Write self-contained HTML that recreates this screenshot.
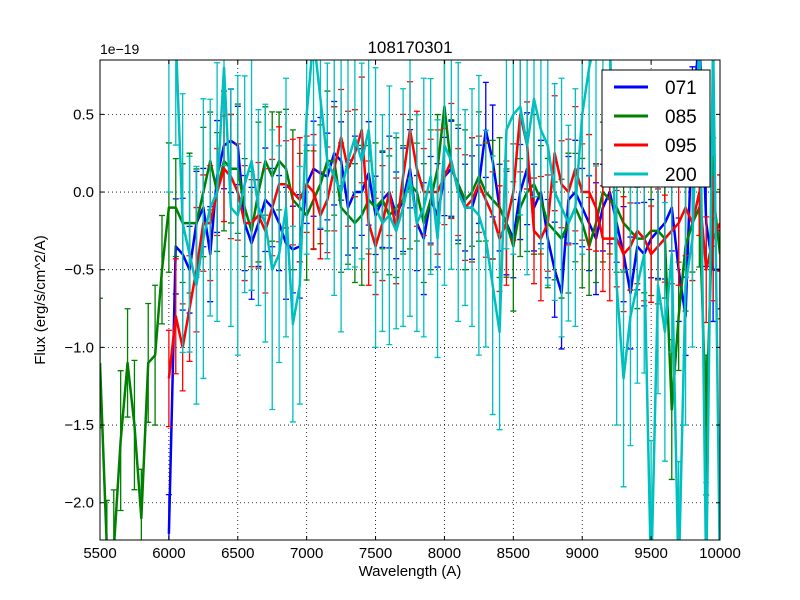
<!DOCTYPE html>
<html><head><meta charset="utf-8"><style>
html,body{margin:0;padding:0;background:#fff;overflow:hidden;width:800px;height:600px;}
svg{display:block;}
text{font-family:"Liberation Sans",sans-serif;}
</style></head><body>
<svg id="c" width="800" height="600" xmlns="http://www.w3.org/2000/svg">
<rect width="800" height="600" fill="#fff"/>
<defs><clipPath id="clip"><rect x="100" y="60" width="620" height="480"/></clipPath></defs>
<g id="grid"></g>
<g id="plot" clip-path="url(#clip)"></g>
<rect x="100" y="60" width="620" height="480" fill="none" stroke="#000" stroke-width="1"/>
<g id="ticks"></g>
<text x="410" y="53" font-size="17" text-anchor="middle">108170301</text>
<text x="100" y="54" font-size="14">1e−19</text>
<text x="410" y="576" font-size="15" text-anchor="middle">Wavelength (A)</text>
<text x="45" y="300" font-size="15" text-anchor="middle" transform="rotate(-90 45 300)">Flux (erg/s/cm^2/A)</text>
<g id="legend"></g>
</svg>
<script>
const wl = [];
for (let w = 5500; w <= 10000; w += 50) wl.push(w);
const seriesNames = ["071","085","095","200"];
const seriesColors = ["#0000ff","#008000","#ff0000","#00bfbf"];
const errScale = [0.36, 0.45, 0.4, 0.9];
const startWl = [6000, 5500, 6000, 6000];
const s071 = [-2.2,-0.35,-0.4,-0.5,-0.2,-0.1,-0.4,0.1,0.3,0.33,0.3,-0.2,-0.33,-0.2,-0.05,-0.1,-0.2,-0.33,-0.37,-0.35,0.05,0.15,0.12,0.1,0.25,0.2,-0.1,0.0,0.0,0.12,-0.15,-0.05,0.0,-0.15,-0.05,0.15,-0.2,-0.3,-0.05,-0.15,0.1,0.15,0.05,-0.1,-0.1,0.05,0.4,0.2,-0.1,-0.2,-0.3,0.0,0.15,-0.1,0.0,-0.3,-0.5,-0.65,-0.05,0.0,-0.1,-0.2,-0.3,-0.1,0.0,-0.2,-0.4,-0.65,-0.35,-0.4,-0.3,-0.25,-0.2,-0.1,-0.5,-0.8,0.5,1.0,-0.2,-0.5,-0.5];
const s085 = [-1.1,-2.3,-2.3,-1.6,-1.1,-1.5,-2.1,-1.1,-1.05,-0.5,-0.1,-0.1,-0.2,-0.2,-0.2,0.0,0.2,0.0,0.2,0.15,0.15,-0.1,-0.25,0.0,0.2,0.1,0.2,0.15,-0.05,-0.1,-0.15,-0.05,0.05,0.2,0.2,-0.1,-0.15,-0.2,-0.15,-0.05,-0.1,-0.05,-0.15,-0.1,-0.05,0.05,0.0,-0.2,-0.05,0.15,0.55,0.15,0.05,-0.05,0.0,0.1,0.0,-0.05,-0.1,-0.2,-0.35,-0.1,0.0,0.05,-0.05,-0.2,-0.25,-0.3,-0.2,-0.1,-0.2,-0.35,-0.2,0.0,-0.05,-0.1,-0.2,-0.25,-0.3,-0.3,-0.25,-0.25,-0.3,-1.4,-0.8,-0.35,-0.2,-0.1,-1.5,0.0,-0.4];
const s095 = [-1.2,-0.8,-1.0,-0.75,-0.5,-0.2,-0.2,0.0,0.15,0.1,0.0,-0.2,-0.2,-0.15,-0.25,-0.1,0.05,0.05,0.0,-0.05,0.05,0.0,-0.15,-0.05,0.15,0.35,0.15,0.25,0.4,-0.2,-0.35,-0.2,0.0,-0.25,0.1,0.4,0.15,0.0,0.0,0.0,0.1,0.2,0.0,-0.1,-0.05,0.05,-0.05,-0.15,-0.3,-0.2,0.0,0.5,0.3,-0.25,-0.3,-0.2,0.25,0.05,0.0,0.15,0.0,0.0,-0.1,-0.3,-0.3,-0.3,-0.4,-0.35,-0.25,-0.3,-0.4,-0.35,-0.3,-0.25,-0.2,-0.1,-0.2,0.0,-0.5,-0.3,-0.2];
const s200 = [0.9,1.0,-0.2,-0.4,-0.6,-0.3,-0.1,0.0,0.8,-0.1,-0.15,0.05,0.2,-0.1,-0.2,-0.5,-0.4,-0.1,-0.85,-0.6,0.5,1.0,0.6,0.2,0.1,0.0,0.2,0.35,0.2,0.4,-0.1,-0.2,-0.15,-0.25,-0.1,0.1,-0.2,-0.1,0.1,-0.3,0.3,0.2,0.0,-0.1,-0.1,-0.15,-0.3,-0.6,-0.9,0.4,0.5,0.55,0.3,0.6,0.4,0.3,0.0,-0.1,-0.2,-0.1,0.5,0.8,1.0,0.9,1.0,-0.6,-1.2,-0.8,-0.6,-0.4,-2.5,-0.6,-0.9,-0.4,-2.5,-0.6,-0.3,1.0,-2.5,1.0,-2.5];
const allSeries = [s071, s085, s095, s200];
const xTicks = [5500,6000,6500,7000,7500,8000,8500,9000,9500,10000];
const yTicks = [0.5,0.0,-0.5,-1.0,-1.5,-2.0];
const yTickLabels = ["0.5","0.0","−0.5","−1.0","−1.5","−2.0"];

const NS = "http://www.w3.org/2000/svg";
const X0=100,X1=720,Y0=60,Y1=540, xmin=5500,xmax=10000,ymin=-2.24,ymax=0.85;
const xs = v => X0 + (v-xmin)/(xmax-xmin)*(X1-X0);
const ys = v => Y1 - (v-ymin)/(ymax-ymin)*(Y1-Y0);
const cy = y => Math.max(Y0-2, Math.min(Y1+2, y));
function mk(tag, attrs, parent){const e=document.createElementNS(NS,tag);for(const k in attrs)e.setAttribute(k,attrs[k]);parent.appendChild(e);return e;}
const grid=document.getElementById('grid'), ticks=document.getElementById('ticks'), plot=document.getElementById('plot'), legend=document.getElementById('legend');
xTicks.forEach(t=>{
  const x=xs(t);
  const g=mk('line',{x1:x,x2:x,y1:Y0,y2:Y1,stroke:'#000','stroke-dasharray':'1,3','stroke-width':0.8},grid);
  
  
  mk('line',{x1:x,x2:x,y1:Y1,y2:Y1-4,stroke:'#000'},ticks);
  mk('line',{x1:x,x2:x,y1:Y0,y2:Y0+4,stroke:'#000'},ticks);
  const tx=mk('text',{x:x,y:Y1+18,'font-size':15,'text-anchor':'middle'},ticks);
  tx.textContent=t;
  
  
});
yTicks.forEach((t,i)=>{
  const y=ys(t);
  const g=mk('line',{x1:X0,x2:X1,y1:y,y2:y,stroke:'#000','stroke-dasharray':'1,3','stroke-width':0.8},grid);
  
  
  mk('line',{x1:X0,x2:X0+4,y1:y,y2:y,stroke:'#000'},ticks);
  mk('line',{x1:X1,x2:X1-4,y1:y,y2:y,stroke:'#000'},ticks);
  const tx=mk('text',{x:X0-6,y:y+5,'font-size':15,'text-anchor':'end'},ticks);
  tx.textContent=yTickLabels[i];
  
  
});
allSeries.forEach((s,si)=>{
  const g=mk('g',{},plot);
  
  
  const off=(startWl[si]-5500)/50;
  let pts=[];
  s.forEach((v,i)=>{
    const x=xs(wl[i+off]);
    const e=errScale[si]*(0.7+0.3*((i*7+si*3)%5)/4);
    const yl=cy(ys(v-e)), yh=cy(ys(v+e));
    const b=mk('path',{d:`M${x},${yl}V${yh}M${x-3},${yl}h6M${x-3},${yh}h6`,stroke:seriesColors[si],'stroke-width':1.3,fill:'none'},g);
    
    
    pts.push(x+','+ys(v));
  });
  const l=mk('polyline',{points:pts.join(' '),stroke:seriesColors[si],'stroke-width':2.5,fill:'none','stroke-linejoin':'round'},g);
  
  
});
mk('rect',{x:602,y:70,width:108,height:117,fill:'#fff',stroke:'#000'},legend);
seriesNames.forEach((n,i)=>{
  const y=87+i*29;
  const ln=mk('line',{x1:614,x2:648,y1:y,y2:y,stroke:seriesColors[i],'stroke-width':3},legend);
  
  
  const tx=mk('text',{x:665,y:y+7,'font-size':19},legend);
  tx.textContent=n;
  
  
});
</script>
</body></html>
